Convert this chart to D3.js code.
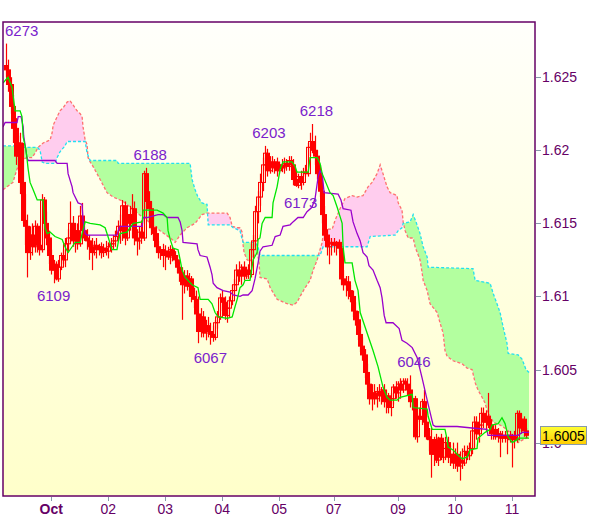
<!DOCTYPE html>
<html><head><meta charset="utf-8">
<script src="https://cdn.jsdelivr.net/npm/d3@7/dist/d3.min.js"></script>
<style>
html,body{margin:0;padding:0;background:#fff;}
svg{display:block;font-family:"Liberation Sans",Arial,sans-serif;}
</style></head><body>
<svg id="c" width="600" height="519"></svg>
<script>
// ---- data (bar index = hourly bar) ----
const open=[1.6258,1.6255,1.6245,1.6230,1.6215,1.6196,1.6205,1.6178,1.6152,1.6148,
1.6130,1.6142,1.6134,1.6148,1.6135,1.6132,1.6166,1.6150,1.6140,1.6128,
1.6118,1.6122,1.6112,1.6120,1.6128,1.6125,1.6136,1.6140,1.6150,1.6138,
1.6145,1.6136,1.6155,1.6145,1.6140,1.6138,1.6134,1.6130,1.6135,1.6132,
1.6134,1.6130,1.6133,1.6131,1.6134,1.6136,1.6138,1.6141,1.6148,1.6145,
1.6162,1.6140,1.6156,1.6150,1.6160,1.6140,1.6138,1.6144,1.6140,1.6184,
1.6165,1.6160,1.6147,1.6143,1.6134,1.6130,1.6132,1.6128,1.6131,1.6127,
1.6132,1.6128,1.6125,1.6120,1.6116,1.6108,1.6114,1.6107,1.6112,1.6100,
1.6098,1.6088,1.6076,1.6086,1.6075,1.6080,1.6076,1.6074,1.6072,1.6082,
1.6086,1.6099,1.6096,1.6087,1.6092,1.6097,1.6104,1.6108,1.6118,1.6114,
1.6120,1.6114,1.6118,1.6115,1.6132,1.6138,1.6158,1.6168,1.6178,1.6190,
1.6198,1.6186,1.6192,1.6188,1.6192,1.6186,1.6190,1.6188,1.6191,1.6189,
1.6193,1.6190,1.6180,1.6176,1.6182,1.6178,1.6185,1.6184,1.6202,1.6206,
1.6200,1.6196,1.6184,1.6172,1.6156,1.6142,1.6134,1.6136,1.6137,1.6135,
1.6137,1.6133,1.6112,1.6108,1.6110,1.6104,1.6100,1.6090,1.6084,1.6074,
1.6066,1.6060,1.6048,1.6040,1.6030,1.6034,1.6030,1.6035,1.6032,1.6036,
1.6028,1.6032,1.6024,1.6030,1.6038,1.6034,1.6040,1.6036,1.6042,1.6040,
1.6036,1.6028,1.6030,1.6004,1.6018,1.6016,1.6028,1.6014,1.6004,1.6002,
1.5992,1.6002,1.5988,1.6003,1.5990,1.5996,1.6000,1.5990,1.5992,1.5986,
1.5992,1.5984,1.5988,1.5986,1.5994,1.5991,1.5996,1.6008,1.6014,1.6006,
1.6012,1.6020,1.6014,1.6018,1.6012,1.6006,1.6009,1.6004,1.6006,1.6003,
1.6005,1.6003,1.6005,1.6002,1.6004,1.6002,1.6020,1.6010,1.6016,1.6008];
const high=[1.6273,1.6262,1.6250,1.6238,1.6222,1.6210,1.6212,1.6205,1.6170,1.6156,
1.6148,1.6150,1.6152,1.6150,1.6140,1.6170,1.6168,1.6158,1.6145,1.6132,
1.6125,1.6124,1.6125,1.6130,1.6132,1.6140,1.6146,1.6165,1.6155,1.6150,
1.6150,1.6162,1.6164,1.6152,1.6146,1.6142,1.6140,1.6138,1.6140,1.6136,
1.6137,1.6136,1.6138,1.6137,1.6140,1.6142,1.6145,1.6152,1.6156,1.6166,
1.6165,1.6160,1.6162,1.6170,1.6165,1.6146,1.6148,1.6152,1.6186,1.6188,
1.6172,1.6165,1.6155,1.6148,1.6138,1.6134,1.6136,1.6135,1.6134,1.6135,
1.6134,1.6131,1.6128,1.6124,1.6120,1.6118,1.6118,1.6116,1.6114,1.6106,
1.6104,1.6100,1.6092,1.6090,1.6084,1.6086,1.6082,1.6080,1.6084,1.6090,
1.6102,1.6104,1.6100,1.6096,1.6100,1.6108,1.6112,1.6122,1.6124,1.6122,
1.6124,1.6120,1.6122,1.6136,1.6142,1.6162,1.6172,1.6184,1.6195,1.6203,
1.6201,1.6196,1.6196,1.6194,1.6195,1.6192,1.6194,1.6195,1.6194,1.6196,
1.6196,1.6194,1.6186,1.6184,1.6186,1.6188,1.6190,1.6205,1.6212,1.6218,
1.6210,1.6200,1.6190,1.6178,1.6162,1.6146,1.6140,1.6140,1.6140,1.6138,
1.6139,1.6136,1.6118,1.6114,1.6114,1.6108,1.6104,1.6096,1.6090,1.6080,
1.6072,1.6064,1.6054,1.6044,1.6040,1.6040,1.6038,1.6040,1.6038,1.6040,
1.6036,1.6034,1.6034,1.6040,1.6042,1.6042,1.6044,1.6044,1.6044,1.6044,
1.6046,1.6032,1.6032,1.6020,1.6024,1.6030,1.6036,1.6020,1.6010,1.6010,
1.6004,1.6006,1.6004,1.6006,1.6000,1.6004,1.6004,1.5998,1.6000,1.5996,
1.6000,1.5994,1.5996,1.5998,1.5998,1.6000,1.6010,1.6018,1.6018,1.6014,
1.6024,1.6024,1.6022,1.6034,1.6016,1.6012,1.6012,1.6010,1.6008,1.6008,
1.6008,1.6008,1.6008,1.6006,1.6008,1.6022,1.6022,1.6020,1.6018,1.6010];
const low=[1.6250,1.6240,1.6225,1.6205,1.6190,1.6188,1.6170,1.6150,1.6135,1.6113,
1.6125,1.6128,1.6130,1.6130,1.6128,1.6130,1.6145,1.6135,1.6122,1.6115,
1.6109,1.6111,1.6110,1.6118,1.6122,1.6120,1.6130,1.6136,1.6134,1.6130,
1.6132,1.6134,1.6140,1.6138,1.6132,1.6125,1.6118,1.6128,1.6126,1.6128,
1.6126,1.6127,1.6128,1.6126,1.6130,1.6132,1.6134,1.6138,1.6136,1.6138,
1.6135,1.6138,1.6145,1.6140,1.6135,1.6128,1.6132,1.6136,1.6138,1.6160,
1.6150,1.6142,1.6138,1.6130,1.6126,1.6125,1.6120,1.6118,1.6125,1.6122,
1.6124,1.6122,1.6116,1.6110,1.6084,1.6102,1.6104,1.6100,1.6096,1.6092,
1.6084,1.6068,1.6072,1.6072,1.6070,1.6072,1.6067,1.6069,1.6070,1.6078,
1.6084,1.6090,1.6084,1.6082,1.6086,1.6094,1.6100,1.6104,1.6110,1.6108,
1.6111,1.6112,1.6112,1.6113,1.6126,1.6134,1.6150,1.6162,1.6172,1.6186,
1.6182,1.6184,1.6185,1.6184,1.6182,1.6184,1.6185,1.6184,1.6186,1.6186,
1.6188,1.6176,1.6175,1.6174,1.6173,1.6176,1.6182,1.6182,1.6196,1.6198,
1.6190,1.6180,1.6168,1.6150,1.6138,1.6128,1.6122,1.6128,1.6130,1.6128,
1.6130,1.6108,1.6104,1.6100,1.6098,1.6096,1.6086,1.6080,1.6070,1.6062,
1.6056,1.6044,1.6036,1.6026,1.6022,1.6026,1.6024,1.6028,1.6026,1.6024,
1.6020,1.6020,1.6018,1.6026,1.6030,1.6028,1.6030,1.6034,1.6036,1.6032,
1.6024,1.6022,1.6002,1.6000,1.6014,1.6012,1.6012,1.6002,1.5994,1.5976,
1.5984,1.5986,1.5984,1.5988,1.5986,1.5988,1.5986,1.5984,1.5982,1.5982,
1.5980,1.5974,1.5982,1.5984,1.5988,1.5988,1.5992,1.5996,1.6002,1.6000,
1.6008,1.6010,1.6008,1.6010,1.6002,1.6002,1.6002,1.6000,1.5990,1.6000,
1.6000,1.5992,1.6000,1.5983,1.5996,1.6000,1.6008,1.6006,1.6004,1.6003];
const close=[1.6255,1.6245,1.6230,1.6215,1.6196,1.6205,1.6178,1.6152,1.6148,1.6130,
1.6142,1.6134,1.6148,1.6135,1.6132,1.6166,1.6150,1.6140,1.6128,1.6118,
1.6122,1.6112,1.6120,1.6128,1.6125,1.6136,1.6140,1.6150,1.6138,1.6145,
1.6136,1.6155,1.6145,1.6140,1.6138,1.6134,1.6130,1.6135,1.6132,1.6134,
1.6130,1.6133,1.6131,1.6134,1.6136,1.6138,1.6141,1.6148,1.6145,1.6162,
1.6140,1.6156,1.6150,1.6160,1.6140,1.6138,1.6144,1.6140,1.6184,1.6165,
1.6160,1.6147,1.6143,1.6134,1.6130,1.6132,1.6128,1.6131,1.6127,1.6132,
1.6128,1.6125,1.6120,1.6116,1.6108,1.6114,1.6107,1.6112,1.6100,1.6098,
1.6088,1.6076,1.6086,1.6075,1.6080,1.6076,1.6074,1.6072,1.6082,1.6086,
1.6099,1.6096,1.6087,1.6092,1.6097,1.6104,1.6108,1.6118,1.6114,1.6120,
1.6114,1.6118,1.6115,1.6132,1.6138,1.6158,1.6168,1.6178,1.6190,1.6198,
1.6186,1.6192,1.6188,1.6192,1.6186,1.6190,1.6188,1.6191,1.6189,1.6193,
1.6190,1.6180,1.6176,1.6182,1.6178,1.6185,1.6184,1.6202,1.6206,1.6200,
1.6196,1.6184,1.6172,1.6156,1.6142,1.6134,1.6136,1.6137,1.6135,1.6137,
1.6133,1.6112,1.6108,1.6110,1.6104,1.6100,1.6090,1.6084,1.6074,1.6066,
1.6060,1.6048,1.6040,1.6030,1.6034,1.6030,1.6035,1.6032,1.6036,1.6028,
1.6032,1.6024,1.6030,1.6038,1.6034,1.6040,1.6036,1.6042,1.6040,1.6036,
1.6028,1.6030,1.6004,1.6018,1.6016,1.6028,1.6014,1.6004,1.6002,1.5992,
1.6002,1.5988,1.6003,1.5990,1.5996,1.6000,1.5990,1.5992,1.5986,1.5992,
1.5984,1.5988,1.5986,1.5994,1.5991,1.5996,1.6008,1.6014,1.6006,1.6012,
1.6020,1.6014,1.6018,1.6012,1.6006,1.6009,1.6004,1.6006,1.6003,1.6005,
1.6003,1.6005,1.6002,1.6004,1.6002,1.6020,1.6010,1.6016,1.6008,1.6005];

// Ichimoku lines: [bar position, price]
const tenkan=[[-1.3,1.6246],[0.8,1.6250],[2.5,1.6243],[3.8,1.6227],[5.9,1.6227],[6.7,1.6223],[7.2,1.6209],[8.4,1.6200],[9.3,1.6187],[10.1,1.6178],[11.4,1.6173],[13.1,1.6166],[15.6,1.6166],[16.4,1.6147],[17.3,1.6143],[18.5,1.6144],[20.6,1.6141],[23.6,1.6139],[24.8,1.6134],[26.1,1.6130],[27.8,1.6134],[29.1,1.6137],[31.2,1.6137],[32,1.6143],[33.3,1.6151],[35.4,1.6150],[39.6,1.6149],[41.7,1.6147],[42.9,1.6141],[44.6,1.6132],[46.7,1.6132],[47.2,1.6137],[48,1.6143],[50.9,1.6144],[52.2,1.6147],[53.5,1.6150],[57.3,1.6151],[57.7,1.6159],[63.6,1.6159],[66.1,1.6157],[67.8,1.6154],[68.2,1.6145],[69.1,1.6139],[70.3,1.6133],[72.4,1.6132],[73.3,1.6125],[74.1,1.6118],[75.4,1.6113],[78.3,1.6108],[80.8,1.6106],[81.7,1.6098],[85.1,1.6098],[86.7,1.6095],[88,1.6089],[89.3,1.6086],[93.1,1.6085],[95.2,1.6086],[96.4,1.6093],[97.3,1.6098],[98.5,1.6106],[99.8,1.6108],[100.6,1.6111],[102.7,1.6111],[104,1.6125],[105.7,1.6130],[106.1,1.6139],[106.9,1.6140],[107.8,1.6150],[109.1,1.6154],[112,1.6154],[112.4,1.6164],[114.1,1.6175],[115.4,1.6187],[116.6,1.6192],[120.4,1.6192],[121.7,1.6189],[122.5,1.6185],[127.2,1.6185],[128,1.6195],[131,1.6195],[132.2,1.6191],[133.1,1.6184],[136.4,1.6171],[137.7,1.6169],[139.4,1.6161],[141.5,1.6150],[141.9,1.6134],[142.7,1.6123],[145.7,1.6123],[146.9,1.6111],[148.2,1.6104],[149.1,1.6089],[152,1.6075],[154.5,1.6063],[156.6,1.6052],[158.7,1.6038],[160.4,1.6031],[161.7,1.6029],[164.6,1.6029],[165.9,1.6031],[171,1.6033],[171.4,1.6024],[177.3,1.6023],[177.7,1.6018],[179.4,1.6009],[184.8,1.6009],[185.7,1.6002],[186.1,1.5997],[188.2,1.5995],[189.9,1.5992],[192,1.5989],[194.1,1.5990],[195.4,1.5995],[198.3,1.5996],[198.7,1.6003],[201.7,1.6007],[203.8,1.6009],[204.6,1.6012],[207.2,1.6013],[208.8,1.6017],[210.1,1.6013],[211.4,1.6004],[213.1,1.6000],[215.2,1.6002],[215.6,1.6003],[220.2,1.6003]];
const kijun=[[-1.3,1.6216],[-0.4,1.6219],[4.6,1.6219],[5.1,1.6223],[6.3,1.6223],[7.2,1.6216],[7.4,1.6210],[8.8,1.6195],[9.3,1.6193],[20.6,1.6193],[21.5,1.6191],[25.7,1.6191],[26.1,1.6184],[27.8,1.6175],[28.2,1.6171],[30.3,1.6164],[32,1.6163],[32.4,1.6152],[33.3,1.6143],[34.1,1.6142],[46.7,1.6142],[47.2,1.6145],[48,1.6148],[57.3,1.6148],[57.7,1.6154],[59.4,1.6154],[64,1.6156],[66.1,1.6156],[67.8,1.6154],[72.4,1.6154],[73.3,1.6151],[74.1,1.6145],[74.5,1.6137],[80.4,1.6136],[80.8,1.6132],[81.7,1.6128],[84.6,1.6127],[85.9,1.6120],[86.7,1.6115],[87.2,1.6109],[88.8,1.6106],[91.4,1.6104],[94.3,1.6103],[95.6,1.6101],[98.5,1.6100],[99.8,1.6101],[101.9,1.6101],[103.6,1.6104],[104.8,1.6112],[106.1,1.6123],[106.9,1.6131],[108.2,1.6134],[112,1.6135],[113.3,1.6141],[115.4,1.6142],[116.6,1.6148],[119.6,1.6149],[120.8,1.6151],[122.9,1.6154],[125.1,1.6154],[126.7,1.6158],[128.8,1.6161],[130.1,1.6167],[131.4,1.6182],[132.2,1.6186],[133.1,1.6184],[133.9,1.6171],[139.8,1.6170],[141,1.6166],[141.9,1.6160],[145.2,1.6159],[146.1,1.6151],[147.8,1.6143],[149.1,1.6138],[150.3,1.6130],[152,1.6127],[152.8,1.6121],[154.5,1.6118],[156.2,1.6111],[157.5,1.6106],[158.3,1.6099],[159.2,1.6087],[160,1.6082],[162.9,1.6082],[165.5,1.6078],[166.7,1.6070],[168.8,1.6068],[171,1.6065],[173.1,1.6058],[175.2,1.6044],[177.3,1.6029],[179.8,1.6012],[180.8,1.6011],[189.9,1.6011],[196.2,1.6010],[202.5,1.6009],[202.9,1.6005],[215.6,1.6005],[217.3,1.6007],[220.2,1.6007]];
const spanA=[[-1.3,1.6203],[5.9,1.6203],[6.7,1.6202],[13.1,1.6202],[14.3,1.6200],[15.2,1.6192],[16.4,1.6191],[20.6,1.6191],[21.5,1.6195],[22.7,1.6199],[24.8,1.6203],[25.7,1.6206],[33.3,1.6206],[34.1,1.6198],[35.4,1.6193],[46.7,1.6193],[47.2,1.6191],[77.5,1.6191],[78.3,1.6180],[79.6,1.6173],[80.8,1.6168],[82.5,1.6164],[84.6,1.6163],[85.1,1.6149],[94.3,1.6149],[95.6,1.6147],[98.5,1.6145],[99.4,1.6139],[99.8,1.6137],[104.8,1.6137],[106.1,1.6134],[106.9,1.6128],[132.2,1.6128],[133.5,1.6134],[152,1.6134],[153.3,1.6141],[163.8,1.6142],[165.1,1.6145],[166.7,1.6147],[167.2,1.6150],[170.1,1.6151],[171.4,1.6156],[172.6,1.6151],[174.3,1.6143],[175.6,1.6134],[177.3,1.6127],[177.7,1.6120],[196.6,1.6119],[197.5,1.6111],[203.8,1.6109],[205.1,1.6102],[206.7,1.6095],[208,1.6089],[209.3,1.6079],[210.9,1.6068],[211.4,1.6061],[215.6,1.6060],[217.3,1.6057],[218.9,1.6050],[220.2,1.6048]];
const spanB=[[-1.3,1.6173],[2.9,1.6178],[3.8,1.6183],[4.6,1.6187],[5.9,1.6193],[8.8,1.6195],[10.9,1.6195],[12.2,1.6198],[13.5,1.6202],[15.6,1.6205],[18.5,1.6207],[19.4,1.6212],[19.8,1.6217],[21.5,1.6223],[22.7,1.6227],[24,1.6229],[25.7,1.6233],[26.9,1.6234],[28.2,1.6231],[29.9,1.6227],[31.2,1.6225],[32,1.6223],[32.4,1.6216],[33.3,1.6207],[34.1,1.6204],[34.5,1.6195],[35.4,1.6192],[36.6,1.6189],[39.6,1.6180],[42.5,1.6171],[45.1,1.6168],[49.3,1.6165],[53.1,1.6160],[55.2,1.6157],[59.4,1.6152],[64.8,1.6145],[69.1,1.6140],[71.2,1.6137],[73.3,1.6142],[76.2,1.6147],[79.6,1.6150],[82.5,1.6156],[84.6,1.6157],[93.1,1.6157],[94.3,1.6154],[95.2,1.6148],[97.3,1.6147],[98.5,1.6147],[99.4,1.6144],[99.8,1.6135],[100.2,1.6130],[101.5,1.6125],[102.7,1.6124],[104,1.6127],[105.7,1.6130],[106.5,1.6124],[106.9,1.6113],[109.9,1.6112],[111.2,1.6106],[114.1,1.6098],[118.3,1.6095],[120.8,1.6094],[122.5,1.6096],[123.8,1.6100],[125.9,1.6106],[128,1.6111],[129.3,1.6118],[131,1.6125],[131.8,1.6130],[133.1,1.6137],[133.5,1.6143],[134.3,1.6146],[137.3,1.6146],[138.5,1.6152],[140.6,1.6160],[142.7,1.6167],[145.7,1.6169],[147.8,1.6168],[150.3,1.6169],[152.4,1.6175],[154.1,1.6178],[156.2,1.6184],[157.5,1.6190],[158.7,1.6184],[160.4,1.6175],[161.7,1.6171],[164.6,1.6169],[165.1,1.6164],[166.7,1.6159],[167.2,1.6151],[168,1.6145],[169.3,1.6140],[171.4,1.6140],[172.2,1.6134],[174.3,1.6125],[175.2,1.6116],[175.6,1.6111],[177.3,1.6104],[178.5,1.6095],[181.5,1.6089],[182.7,1.6082],[184,1.6075],[184.8,1.6063],[185.7,1.6059],[188.2,1.6056],[192,1.6054],[194.1,1.6051],[196.2,1.6050],[197.5,1.6041],[198.7,1.6036],[200.4,1.6031],[201.7,1.6027],[202.5,1.6022],[203.8,1.6018],[205.1,1.6014],[208,1.6012],[210.9,1.6009],[213.5,1.6004],[215.6,1.6000],[217.7,1.6002],[220.2,1.6004]];

const dayTickBars=[19,43,67,91,115,138,165,189,213];
const dayTickLabels=["Oct","02","03","04","05","07","09","10","11"];
const priceTicks=[1.600,1.605,1.610,1.615,1.620,1.625];
const priceTickLabels=["1.6","1.605","1.61","1.615","1.62","1.625"];
const peakBars=[0,59,109,129,170,20,86,124];
const peakKinds=["high","high","high","high","high","low","low","low"];
const lastPrice=1.6005;

// ---- layout ----
const L=3,R=535,T=22,B=496;
const svg=d3.select("#c");
const x=d3.scaleLinear().domain([-1.3,222.7]).range([L,R]);
const y=d3.scaleLinear().domain([1.6,1.625]).range([442.6,77.2]);
const defs=svg.append("defs");

const bg=defs.append("linearGradient").attr("id","bg").attr("x1",0).attr("y1",0).attr("x2",0).attr("y2",1);
bg.append("stop").attr("offset","0%").attr("stop-color","#fffffb");
bg.append("stop").attr("offset","100%").attr("stop-color","#ffffca");
const yg=defs.append("linearGradient").attr("id","yg").attr("x1",0).attr("y1",0).attr("x2",0).attr("y2",1);
yg.append("stop").attr("offset","0%").attr("stop-color","#ffff33");
yg.append("stop").attr("offset","100%").attr("stop-color","#ffcc00");

defs.append("clipPath").attr("id","plot").append("rect").attr("x",L).attr("y",T).attr("width",R-L).attr("height",B-T);

svg.append("rect").attr("x",L).attr("y",T).attr("width",R-L).attr("height",B-T).attr("fill","url(#bg)");

const line=d3.line().x(d=>x(d[0])).y(d=>y(d[1]));
const pTop=y.invert(T-10), pBot=y.invert(B+10);
const x0=spanB[0][0], x1=spanB[spanB.length-1][0];
defs.append("clipPath").attr("id","aboveB").append("path")
  .attr("d",line([[x0,pTop]].concat(spanB,[[x1,pTop]]))+"Z");
defs.append("clipPath").attr("id","belowB").append("path")
  .attr("d",line([[x0,pBot]].concat(spanB,[[x1,pBot]]))+"Z");

const g=svg.append("g").attr("clip-path","url(#plot)");
const between=line(spanA.concat(spanB.slice().reverse()))+"Z";
g.append("g").attr("clip-path","url(#aboveB)").append("path").attr("d",between).attr("fill","#b3ff9f");
g.append("g").attr("clip-path","url(#belowB)").append("path").attr("d",between).attr("fill","#ffcdee");

g.append("path").attr("d",line(spanB)).attr("fill","none").attr("stroke","#ff6f6f").attr("stroke-width",1.3).attr("stroke-dasharray","3,2");
g.append("path").attr("d",line(spanA)).attr("fill","none").attr("stroke","#22e0f0").attr("stroke-width",1.3).attr("stroke-dasharray","3,2");

// candles
const idx=d3.range(close.length);
const cg=g.append("g");
cg.selectAll("line.w").data(idx).join("line")
  .attr("x1",i=>Math.round(x(i))+0.5).attr("x2",i=>Math.round(x(i))+0.5)
  .attr("y1",i=>y(high[i])).attr("y2",i=>y(low[i]))
  .attr("stroke","#ff0000").attr("stroke-width",1.2);
cg.selectAll("rect.b").data(idx).join("rect")
  .attr("x",i=>Math.round(x(i))-1.5).attr("width",4)
  .attr("y",i=>y(Math.max(open[i],close[i])))
  .attr("height",i=>Math.max(1,Math.abs(y(open[i])-y(close[i]))))
  .attr("fill",i=>close[i]<open[i]?"#ff0000":"none")
  .attr("stroke","#ff0000").attr("stroke-width",1);

g.append("path").attr("d",line(kijun)).attr("fill","none").attr("stroke","#9900cc").attr("stroke-width",1.3);
g.append("path").attr("d",line(tenkan)).attr("fill","none").attr("stroke","#00e600").attr("stroke-width",1.3);

// peak labels
peakBars.forEach((b,k)=>{
  const isHigh=peakKinds[k]==="high";
  const v=isHigh?high[b]:low[b];
  const txt=String(Math.round(v*10000)%10000).padStart(4,"0");
  const t=svg.append("text").text(txt).attr("font-size",15).attr("fill","#7a22cc")
    .attr("text-anchor","middle")
    .attr("x",x(b)+(isHigh?4:0))
    .attr("y",isHigh?y(v)-8:y(v)+18);
  const w=t.node().getComputedTextLength();
  if(x(b)+(isHigh?4:0)-w/2<L+2){t.attr("text-anchor","start").attr("x",L+2);}
});

// border
svg.append("rect").attr("x",L).attr("y",T).attr("width",R-L).attr("height",B-T)
  .attr("fill","none").attr("stroke","#660066").attr("stroke-width",1.5);

// y axis (right)
priceTicks.forEach((p,k)=>{
  svg.append("line").attr("x1",R+1).attr("x2",R+6).attr("y1",Math.round(y(p))+0.5).attr("y2",Math.round(y(p))+0.5)
    .attr("stroke","#8899aa").attr("stroke-width",1);
  svg.append("text").text(priceTickLabels[k]).attr("x",R+7).attr("y",y(p)).attr("dy","0.36em")
    .attr("font-size",14).attr("fill","#660066");
});
// x axis
dayTickBars.forEach((b,k)=>{
  svg.append("line").attr("x1",Math.round(x(b))+0.5).attr("x2",Math.round(x(b))+0.5).attr("y1",B+1).attr("y2",B+5)
    .attr("stroke","#8899aa").attr("stroke-width",1);
  svg.append("text").text(dayTickLabels[k]).attr("x",x(b)).attr("y",514).attr("text-anchor","middle")
    .attr("font-size",14).attr("fill","#660066").attr("font-weight",k===0?"bold":"normal");
});

// last price box
const ly=y(lastPrice);
svg.append("rect").attr("x",540.5).attr("y",Math.round(ly)-8.5).attr("width",46).attr("height",18)
  .attr("fill","url(#yg)").attr("stroke","#8899aa").attr("stroke-width",1);
svg.append("text").text(lastPrice.toFixed(4)).attr("x",563.5).attr("y",ly+0.5).attr("dy","0.36em")
  .attr("text-anchor","middle").attr("font-size",14).attr("fill","#000");
</script>
</body></html>
